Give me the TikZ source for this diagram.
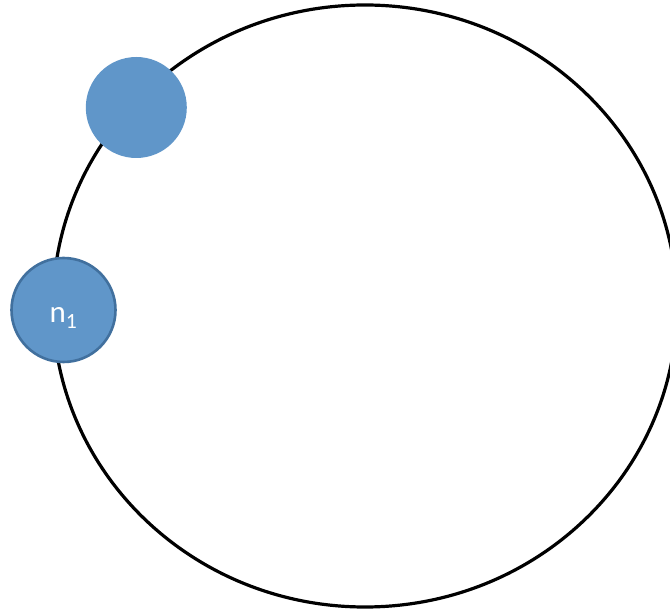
\documentclass[tikz,border=0pt]{standalone}
\usepackage{fontspec}
\usetikzlibrary{shapes.geometric}
\setmainfont{Carlito}
\definecolor{nodefill}{HTML}{6096C9}
\definecolor{nodeedge}{HTML}{41709E}
\begin{document}
\begin{tikzpicture}[x=1pt,y=-1pt,
  ring/.style={draw=black,line width=3.2pt},
  member/.style={circle,fill=nodefill,inner sep=0pt,minimum size=#1},
  labelled/.style={member=104pt,draw=nodeedge,line width=2.6pt},
  nodetext/.style={text=white,inner sep=0pt,font=\fontsize{31}{34}\selectfont}]
  \useasboundingbox (0,0) rectangle (670,609);
  % the ring
  \node[ring,ellipse,minimum width=624pt,minimum height=602pt,inner sep=0pt,fill=none] (ring) at (365,306) {};
  % members on the ring
  \node[member=101pt] (m) at (136.3,107.5) {};
  \node[labelled] (n1) at (63.5,310) {};
  \node[nodetext,anchor=base] (n1text) at ([yshift=-13pt]n1.center) {n\textsubscript{1}};
\end{tikzpicture}
\end{document}
